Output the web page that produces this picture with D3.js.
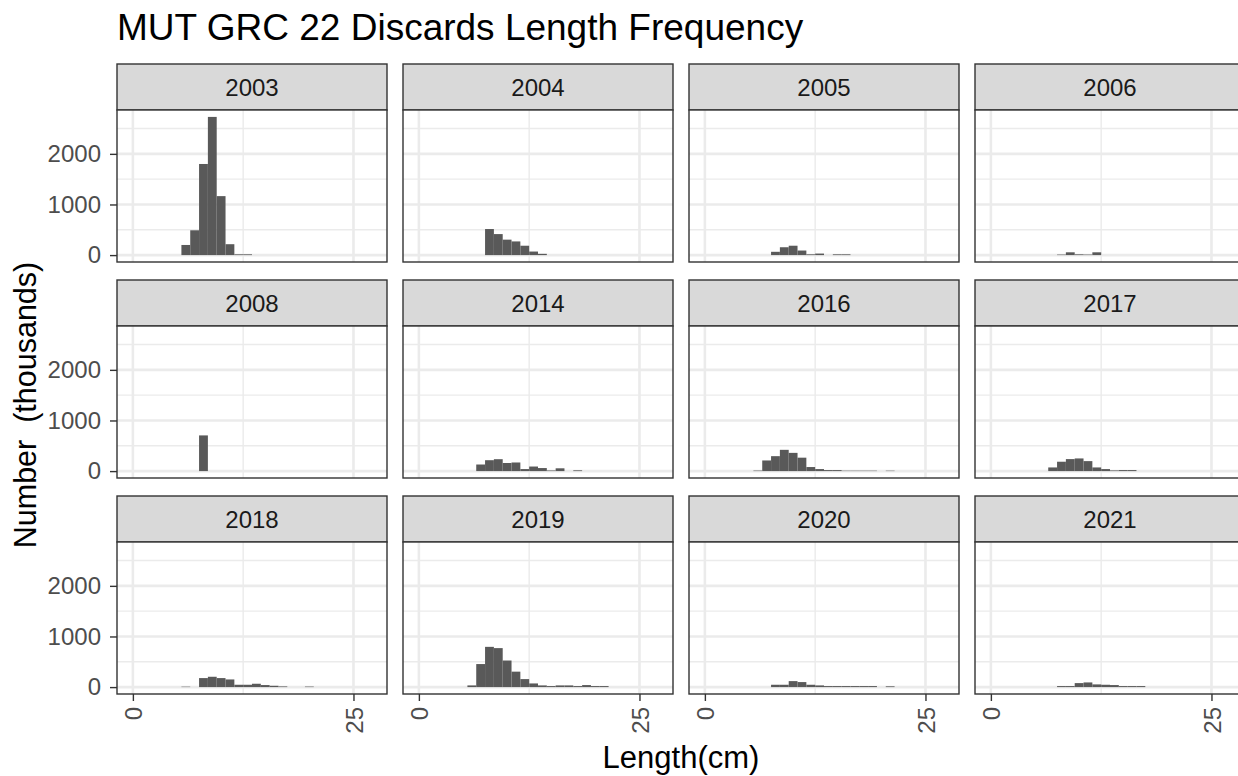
<!DOCTYPE html>
<html><head><meta charset="utf-8">
<script src="https://cdn.jsdelivr.net/npm/d3@7"></script>
<style>
html,body{margin:0;padding:0;background:#fff;overflow:hidden}
svg{display:block;font-family:"Liberation Sans",Arial,sans-serif}
</style></head>
<body>
<svg id="chart" width="1238" height="776"></svg>
<script>
// ---- data ----
const title = "MUT GRC 22 Discards Length Frequency";
const xTitle = "Length(cm)";
const yTitle = "Number  (thousands)";
const years = ["2003","2004","2005","2006","2008","2014","2016","2017","2018","2019","2020","2021"];
const lengths = [6,7,8,9,10,11,12,13,14,15,16,17,18,19,20,21];
const counts = [
  [200,490,1800,2730,1165,215,15,15,0,0,0,0,0,0,0,0],   // 2003
  [0,0,515,415,305,270,185,70,25,0,0,0,0,0,0,0],        // 2004
  [0,0,65,155,185,90,15,30,0,15,15,0,0,0,0,0],          // 2005
  [0,0,10,55,15,10,55,0,0,0,0,0,0,0,0,0],               // 2006
  [0,0,705,0,0,0,0,0,0,0,0,0,0,0,0,0],                  // 2008
  [0,130,215,235,160,170,40,90,60,12,55,0,15,0,0,0],    // 2014
  [10,210,295,420,360,265,80,40,20,20,8,8,8,8,0,8],     // 2016
  [0,72,185,237,250,197,72,40,13,20,20,0,0,0,0,0],      // 2017
  [8,0,178,204,178,151,46,46,66,40,26,13,0,0,10,0],     // 2018
  [33,455,795,770,525,305,158,72,33,20,33,33,20,40,20,20], // 2019
  [0,0,46,46,118,99,46,33,20,20,20,20,20,20,0,15],      // 2020
  [0,0,20,20,79,92,53,46,40,20,20,20,0,0,0,0]           // 2021
];
const xTicks = [0, 25];
const xMinor = [12.5];
const yTicks = [0, 1000, 2000];
const yMinor = [500, 1500, 2500];

// ---- layout ----
const svg = d3.select("#chart");
const ncol = 4;
const colLeft = [117, 403, 689, 975];
const rowTop = [64, 280, 496];
const stripH = 46, panelW = 270, panelH = 152;

const maxV = d3.max(counts.flat());
const x = d3.scaleLinear().domain([-1.8, 28.8]).range([0, panelW]);
const y = d3.scaleLinear().domain([-0.05*maxV, 1.05*maxV]).range([panelH, 0]);

const gridCol = "#EBEBEB";
const tickFont = 24;

years.forEach((yr, i) => {
  const c = i % ncol, r = Math.floor(i / ncol);
  const g = svg.append("g").attr("transform", `translate(${colLeft[c]},${rowTop[r]})`);
  // strip
  g.append("rect").attr("x", 0).attr("y", 0).attr("width", panelW).attr("height", stripH)
    .attr("fill", "#D9D9D9").attr("stroke", "#333333").attr("stroke-width", 1.4);
  g.append("text").attr("x", panelW/2).attr("y", stripH/2).attr("dy", "0.36em")
    .attr("text-anchor", "middle").attr("font-size", tickFont).attr("fill", "#1A1A1A").text(yr);
  const p = g.append("g").attr("transform", `translate(0,${stripH})`);
  p.append("rect").attr("width", panelW).attr("height", panelH).attr("fill", "#fff");
  // minor grid
  p.selectAll(".ym").data(yMinor).join("line")
    .attr("x1", 0).attr("x2", panelW).attr("y1", d => y(d)).attr("y2", d => y(d))
    .attr("stroke", gridCol).attr("stroke-width", 1.4);
  p.selectAll(".xm").data(xMinor).join("line")
    .attr("y1", 0).attr("y2", panelH).attr("x1", d => x(d)).attr("x2", d => x(d))
    .attr("stroke", gridCol).attr("stroke-width", 1.4);
  // major grid
  p.selectAll(".yM").data(yTicks).join("line")
    .attr("x1", 0).attr("x2", panelW).attr("y1", d => y(d)).attr("y2", d => y(d))
    .attr("stroke", gridCol).attr("stroke-width", 2.6);
  p.selectAll(".xM").data(xTicks).join("line")
    .attr("y1", 0).attr("y2", panelH).attr("x1", d => x(d)).attr("x2", d => x(d))
    .attr("stroke", gridCol).attr("stroke-width", 2.6);
  // bars
  const data = lengths.map((l, k) => ({l, v: counts[i][k]})).filter(d => d.v > 0);
  p.selectAll(".bar").data(data).join("rect")
    .attr("x", d => x(d.l - 0.5)).attr("width", d => x(d.l + 0.5) - x(d.l - 0.5))
    .attr("y", d => y(d.v)).attr("height", d => y(0) - y(d.v))
    .attr("fill", "#595959");
  // border
  p.append("rect").attr("width", panelW).attr("height", panelH)
    .attr("fill", "none").attr("stroke", "#333333").attr("stroke-width", 1.4);

  // y axis on first column
  if (c === 0) {
    const ya = p.append("g").call(d3.axisLeft(y).tickValues(yTicks).tickFormat(d3.format("d")).tickSize(7).tickPadding(9));
    ya.select(".domain").remove();
    ya.selectAll("line").attr("stroke", "#333333").attr("stroke-width", 1.4);
    ya.selectAll("text").attr("font-size", tickFont).attr("fill", "#4D4D4D")
      .attr("font-family", "Liberation Sans, Arial, sans-serif");
  }
  // x axis on last row
  if (r === 2) {
    const xa = p.append("g").attr("transform", `translate(0,${panelH})`)
      .call(d3.axisBottom(x).tickValues(xTicks).tickFormat(d3.format("d")).tickSize(7).tickPadding(4));
    xa.select(".domain").remove();
    xa.selectAll("line").attr("stroke", "#333333").attr("stroke-width", 1.4);
    xa.selectAll("text").attr("font-size", tickFont).attr("fill", "#4D4D4D")
      .attr("font-family", "Liberation Sans, Arial, sans-serif")
      .attr("transform", "rotate(-90)")
      .attr("text-anchor", "end").attr("x", -13).attr("y", 0).attr("dy", "0.36em");
  }
});

// titles
svg.append("text").attr("x", 117).attr("y", 40).attr("font-size", 37).attr("fill", "#000").text(title);
svg.append("text").attr("x", (117 + 975 + panelW) / 2).attr("y", 768).attr("text-anchor", "middle")
  .attr("font-size", 31).attr("fill", "#000").text(xTitle);
svg.append("text").attr("transform", `translate(36,405) rotate(-90)`)
  .attr("text-anchor", "middle").attr("font-size", 30.5).attr("fill", "#000").style("white-space", "pre").text(yTitle);
</script>
</body></html>
